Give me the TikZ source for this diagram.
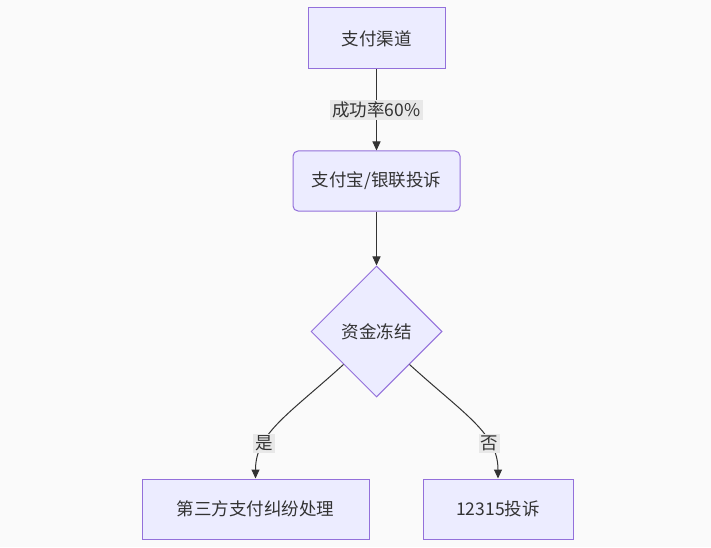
\documentclass[tikz,border=0pt]{standalone}
\usepackage{fontspec}
\setmainfont{Noto Sans CJK SC}
\usetikzlibrary{shapes.geometric,arrows.meta}
\definecolor{bg}{HTML}{FAFAFA}
\definecolor{nfill}{HTML}{ECECFF}
\definecolor{nstroke}{HTML}{9370DB}
\definecolor{txt}{HTML}{333333}
\definecolor{lblbg}{HTML}{E8E8E8}
\tikzset{
  x=1pt,y=1pt,
  every node/.style={font=\fontsize{17.5}{20}\selectfont, text=txt},
  boxnode/.style={draw=nstroke, fill=nfill, line width=1pt, inner sep=0pt},
  decnode/.style={draw=nstroke, fill=nfill, line width=1pt, diamond, inner sep=0pt, minimum width=131pt, minimum height=131pt},
  lbl/.style={fill=lblbg, inner sep=2pt, font=\fontsize{17.5}{20}\selectfont},
  arr/.style={draw=txt, line width=1pt, -{Triangle[length=9pt,width=8pt]}}
}
\begin{document}
\begin{tikzpicture}
\useasboundingbox[fill=bg] (0,0) rectangle (711,547);
\node[boxnode, minimum width=137pt, minimum height=61pt] (a) at (376.5,508.5) {支付渠道};
\node[boxnode, rounded corners=5pt, minimum width=167pt, minimum height=60pt] (b) at (376.5,366) {支付宝/银联投诉};
\node[decnode] (c) at (376.5,215.5) {资金冻结};
\node[boxnode, minimum width=227pt, minimum height=60pt] (d) at (255.5,38) {第三方支付纠纷处理};
\node[boxnode, minimum width=150pt, minimum height=60pt] (e) at (498,38) {12315投诉};
\draw[arr] (a) -- node[lbl] {成功率60\%} (b);
\draw[arr] (b) -- (c);
\draw[arr] (c.south west) .. controls +(-55,-50) and +(0,45) .. (d.north) node[pos=0.7, lbl] {是};
\draw[arr] (c.south east) .. controls +(55,-50) and +(0,45) .. (e.north) node[pos=0.7, lbl] {否};
\end{tikzpicture}
\end{document}
